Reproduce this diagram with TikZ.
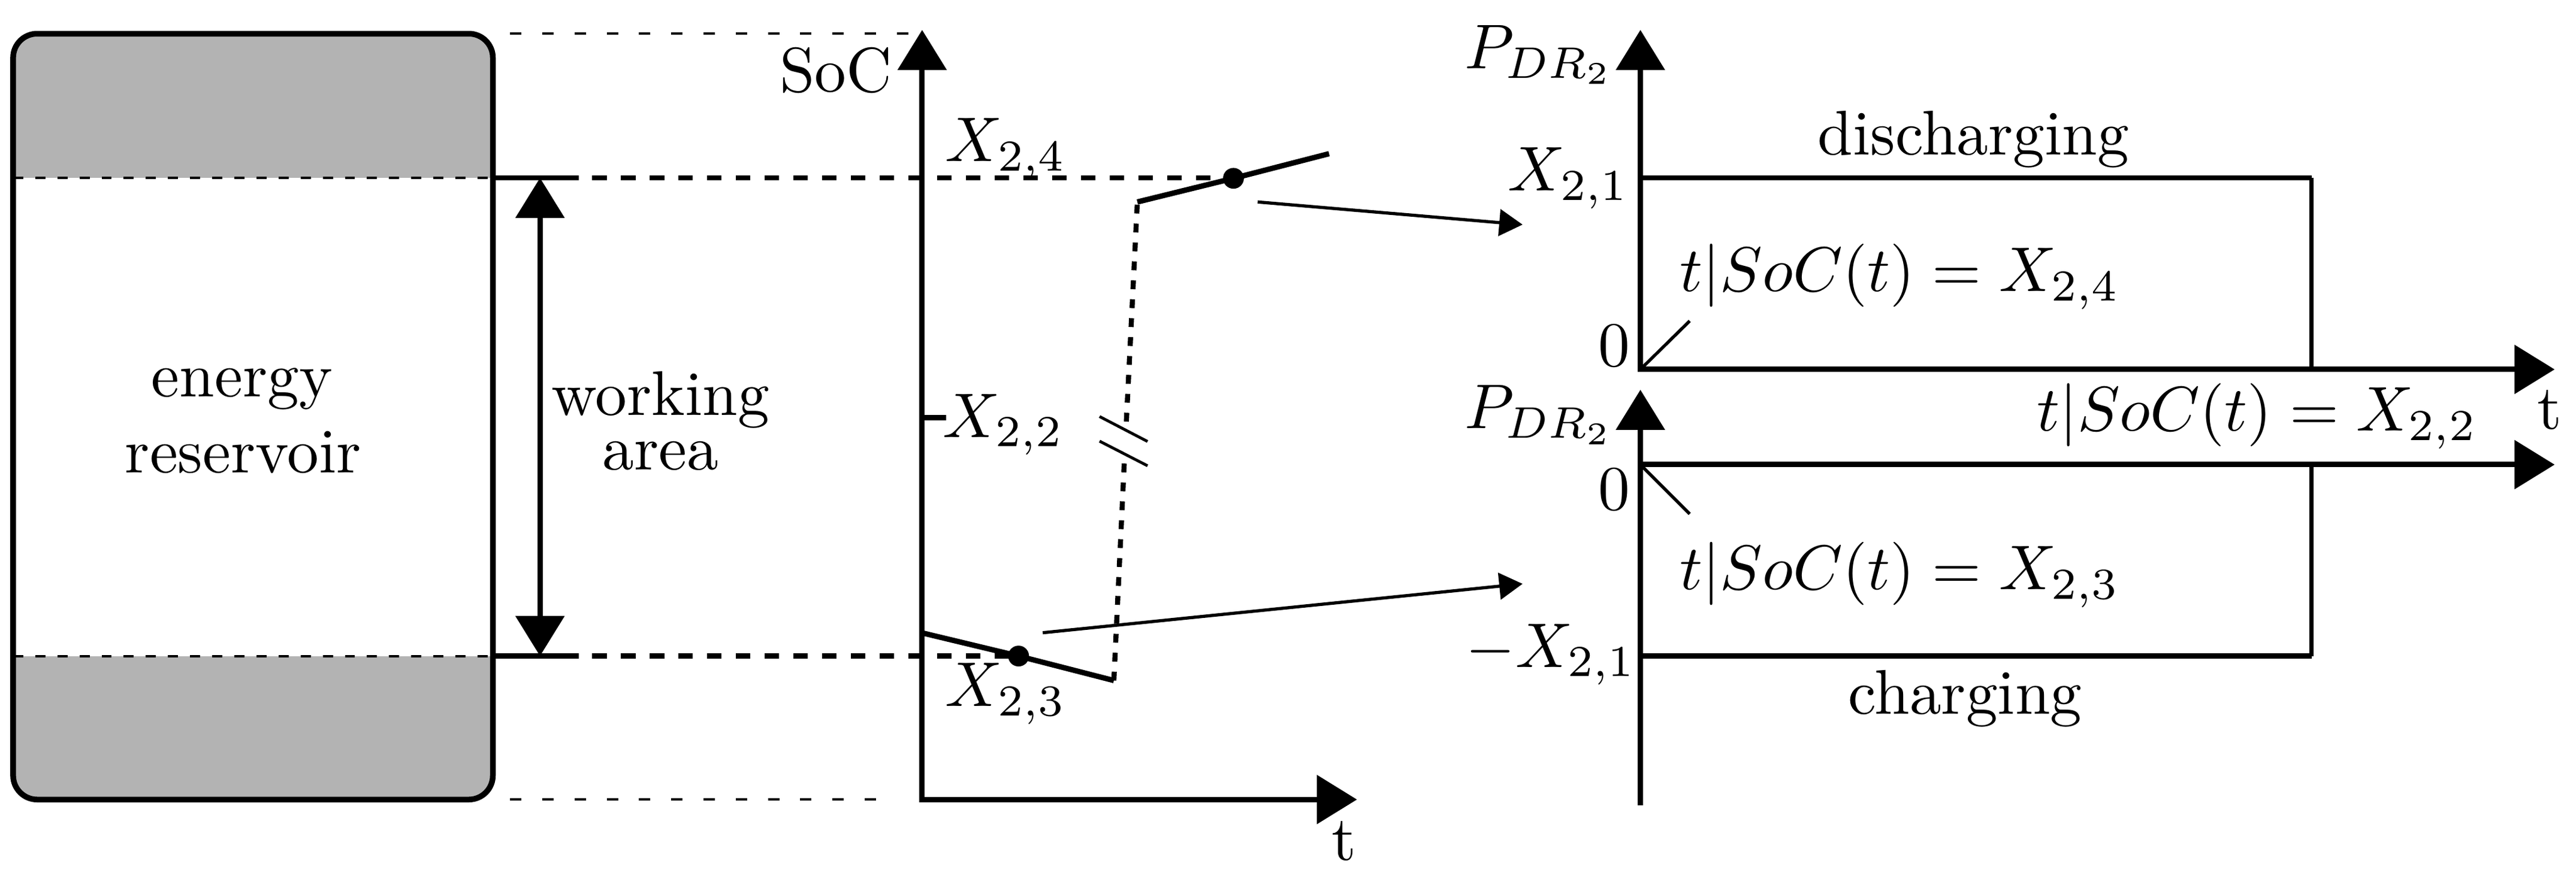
\documentclass[tikz,border=0pt]{standalone}
\usetikzlibrary{arrows.meta}
\definecolor{resgray}{HTML}{B3B3B3}
\begin{document}
\begin{tikzpicture}[x=0.26pt,y=-0.26pt,
  thickline/.style={line width=0.85pt},
  vline/.style={line width=0.65pt},
  thinline/.style={line width=0.45pt},
  bigtip/.style={-{Triangle[length=6.35pt,width=7.6pt]}},
  bigtips/.style={{Triangle[length=6.35pt,width=7.6pt]}-{Triangle[length=6.35pt,width=7.6pt]}},
  smalltip/.style={-{Triangle[length=3.7pt,width=4.2pt]}},
  thickdash/.style={line width=0.85pt,dash pattern=on 2.29pt off 2.26pt},
  dotdash/.style={line width=0.8pt,dash pattern=on 1.4pt off 1.6pt},
  outerdash/.style={line width=0.4pt,dash pattern=on 1.8pt off 3.3pt},
  innerdash/.style={line width=0.4pt,dash pattern=on 1.6pt off 1.9pt},
  lbl/.style={inner sep=0pt,outer sep=0pt},
  dot/.style={circle,fill=black,inner sep=0pt,minimum size=3.3pt}]
\useasboundingbox (0,0) rectangle (1568,537);

% ---------------- energy reservoir -----------------
\coordinate (boxNW) at (8,20.5);
\coordinate (boxSE) at (300,487);
\begin{scope}
  \clip[rounded corners=3.8pt] (boxNW) rectangle (boxSE);
  \fill[resgray] (8,20.5) rectangle (300,108.3);
  \fill[resgray] (8,399.6) rectangle (300,487);
\end{scope}
\draw[innerdash] (8,108.3) -- (300,108.3);
\draw[innerdash] (8,399.6) -- (300,399.6);
\draw[line width=0.9pt,rounded corners=3.8pt] (boxNW) rectangle (boxSE);
\node[lbl,anchor=base] (energy) at (147.3,241.5) {energy};
\node[lbl,anchor=base] (reservoir) at (148,288) {reservoir};

% outer thin dashed lines
\coordinate (dtA) at (310.5,20.5);
\coordinate (dtB) at (554,20.5);
\coordinate (dbA) at (310.5,487);
\coordinate (dbB) at (534,487);
\draw[outerdash] (dtA) -- (dtB);
\draw[outerdash] (dbA) -- (dbB);

% working area
\coordinate (wtA) at (300,108.3);
\coordinate (wtB) at (352.2,108.3);
\coordinate (wbA) at (300,399.6);
\coordinate (wbB) at (352.2,399.6);
\draw[thickline] (wtA) -- (wtB);
\draw[thickline] (wbA) -- (wbB);
\coordinate (waT) at (328.7,108.3);
\coordinate (waB) at (328.7,399.6);
\draw[thickline,bigtips] (waT) -- (waB);
\node[lbl,anchor=base] (working) at (402,253) {working};
\node[lbl,anchor=base] (area) at (402,286) {area};

% ---------------- SoC chart -----------------
\coordinate (socO) at (561.3,487);
\coordinate (socY) at (561.3,18.2);
\coordinate (socT) at (826,487);
\draw[thickline,bigtips] (socY) -- (socO) -- (socT);
\node[lbl,anchor=base east] (soclbl) at (543,56) {SoC};
\node[lbl,anchor=base] (tlbl) at (818,524) {t};

% levels
\node[dot] (d4) at (750.8,108.6) {};
\node[dot] (d3) at (620,399.6) {};
\coordinate (l4A) at (360.5,108.3);
\coordinate (l4B) at (737,108.3);
\coordinate (l3A) at (360.5,399.6);
\coordinate (l3B) at (614,399.6);
\draw[thickdash] (l4A) -- (l4B);
\draw[thickdash] (l3A) -- (l3B);

% tick X22
\coordinate (tk22) at (561.3,254.4);
\coordinate (tk22e) at (575.8,254.4);
\draw[thickline] (tk22) -- (tk22e);

\node[lbl,anchor=base west] (x24) at (575.5,98.3) {$X_{2,4}$};
\node[lbl,anchor=base west] (x22) at (574,266.3) {$X_{2,2}$};
\node[lbl,anchor=base west] (x23) at (575.5,430.3) {$X_{2,3}$};

% SoC curve
\coordinate (c1) at (561.3,385.5);
\coordinate (c2) at (678,414.5);
\coordinate (c3) at (692.3,123);
\coordinate (c4) at (809,93.6);
\coordinate (bkL) at (684.5,278.4);
\coordinate (bkU) at (685.6,256.8);
\draw[thickline] (c1) -- (d3.center) -- (c2);
\draw[thickline] (c3) -- (d4.center) -- (c4);
\draw[dotdash] (c2) -- (bkL);
\draw[dotdash] (bkU) -- (c3);
\coordinate (b1a) at (669.3,253.7);
\coordinate (b1b) at (698.5,268.9);
\coordinate (b2a) at (669.3,268.7);
\coordinate (b2b) at (698.5,283.7);
\draw[thinline] (b1a) -- (b1b);
\draw[thinline] (b2a) -- (b2b);

% connectors to right plots
\coordinate (a1s) at (765.5,123);
\coordinate (a1e) at (926.8,136.8);
\coordinate (a2s) at (634.7,385.4);
\coordinate (a2e) at (926.8,355.6);
\draw[line width=0.5pt,smalltip] (a1s) -- (a1e);
\draw[line width=0.5pt,smalltip] (a2s) -- (a2e);

% ---------------- upper power plot -----------------
\coordinate (uO) at (998.5,225);
\coordinate (uY) at (998.5,18.2);
\coordinate (uT) at (1555,225);
\draw[thickline,bigtips] (uY) -- (uO) -- (uT);
\coordinate (uR1) at (998.5,108.3);
\coordinate (uR2) at (1407,108.3);
\coordinate (uR3) at (1407,225);
\draw[thickline] (uR1) -- (uR2);
\draw[vline] (uR2) -- (uR3);
\coordinate (uS) at (1028.5,195.5);
\draw[line width=0.5pt] (uO) -- (uS);
\node[lbl,anchor=base east] (pu) at (982.5,41.7) {$P_{DR_2}$};
\node[lbl,anchor=base east] (x21u) at (991.5,116.3) {$X_{2,1}$};
\node[lbl,anchor=base east] (zu) at (992,223) {$0$};
\node[lbl,anchor=base west] (dis) at (1106.5,94.4) {discharging};
\node[lbl,anchor=base west] (e24) at (1022.5,177.5) {$t|SoC(t)=X_{2,4}$};

% ---------------- lower power plot -----------------
\coordinate (lB) at (998.5,490.6);
\coordinate (lY) at (998.5,237.4);
\coordinate (lO) at (998.5,283);
\coordinate (lT) at (1555,283);
\draw[thickline,bigtip] (lB) -- (lY);
\draw[thickline,bigtip] (lO) -- (lT);
\coordinate (lR1) at (998.5,399.6);
\coordinate (lR2) at (1407,399.6);
\coordinate (lR3) at (1407,283);
\draw[thickline] (lR1) -- (lR2);
\draw[vline] (lR2) -- (lR3);
\coordinate (lS) at (1028.5,313);
\draw[line width=0.5pt] (lO) -- (lS);
\node[lbl,anchor=base east] (pl) at (982.5,261) {$P_{DR_2}$};
\node[lbl,anchor=base east] (zl) at (992,310.5) {$0$};
\node[lbl,anchor=base east] (x21l) at (996,406.3) {$-X_{2,1}$};
\node[lbl,anchor=base west] (chg) at (1125,435) {charging};
\node[lbl,anchor=base west] (e23) at (1022.5,359) {$t|SoC(t)=X_{2,3}$};
\node[lbl,anchor=base west] (e22) at (1240,262.5) {$t|SoC(t)=X_{2,2}$};
\node[lbl,anchor=base] (tr) at (1552,261.4) {t};
\end{tikzpicture}
\end{document}
